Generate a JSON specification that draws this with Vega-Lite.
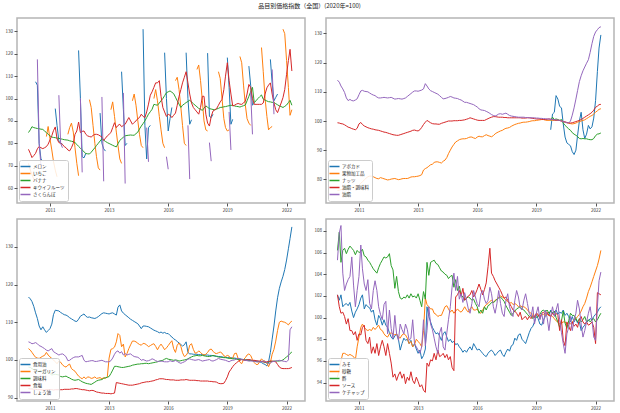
{
"$schema": "https://vega.github.io/schema/vega-lite/v6.json",
"padding": {"left": 4, "top": 3, "right": 6, "bottom": 2},
"title": {"text": "品目別価格指数（全国）(2020年=100)", "fontSize": 6, "font": "Noto Sans CJK JP", "fontWeight": "normal", "color": "#222222", "anchor": "middle", "offset": 8},
"config": {
  "font": "Noto Sans CJK JP",
  "view": {"stroke": "#b5b5b5", "strokeWidth": 1.5},
  "axis": {"domain": false, "grid": false, "labelFontSize": 4.5, "labelColor": "#333333", "tickColor": "#555555", "tickSize": 3, "labelPadding": 1.5, "title": null, "labelFont": "Noto Sans CJK JP"},
  "legend": {"orient": "bottom-left", "offset": 2, "padding": 3, "fillColor": "rgba(255,255,255,0.85)", "strokeColor": "#cccccc", "cornerRadius": 2, "symbolType": "M-2,0H2", "symbolSize": 25, "symbolStrokeWidth": 1.5, "labelFontSize": 4.5, "labelColor": "#222222", "labelOffset": 4, "rowPadding": 0, "title": null, "labelFont": "Noto Sans CJK JP"}
},
"resolve": {"scale": {"color": "independent", "y": "independent"}},
"spacing": 5,
"data": {"values": [
{"d":"2010-01","b":71,"c":84.8,"d2":77.3,"g":76.2,"i":99.4,"j":114,"k":116.7,"l":103,"m":98.1,"n":92.4,"o":104.8,"p":102.1,"q":94.5,"r":106.2,"s":102.1,"t":105.3},
{"d":"2010-02","b":68,"c":86,"d2":75.5,"g":76.3,"i":99.3,"j":113.3,"k":116.2,"l":102.6,"m":98,"n":92.3,"o":104.6,"p":101.6,"q":95.2,"r":107.9,"s":101,"t":107.8},
{"d":"2010-03","b":66,"c":87.4,"d2":73.6,"g":76.5,"i":99.1,"j":112,"k":115.5,"l":102,"m":97.7,"n":92.3,"o":104.3,"p":102.1,"q":96,"r":105.1,"s":100.4,"t":108.5},
{"d":"2010-04","b":64,"c":87,"d2":74.5,"g":76.6,"i":99,"j":111,"k":114.2,"l":101.3,"m":97.4,"n":92.2,"o":104.4,"p":101,"q":96.7,"r":106.2,"s":100.5,"t":104.1},
{"d":"2010-05","a":107.5,"b":63,"c":86.8,"d2":75.5,"g":76.8,"i":98.7,"j":109.8,"k":112.5,"l":100.7,"m":97.1,"n":92.2,"o":104.6,"p":101.2,"q":96.7,"r":106.4,"s":100.1,"t":102.5},
{"d":"2010-06","a":106,"c":86.6,"d2":77.5,"e":117.5,"g":76.9,"i":98.3,"j":107.9,"k":111,"l":100.5,"m":96.9,"n":92.1,"o":104.3,"p":101.3,"q":96.6,"r":105.9,"s":99.4,"t":103.1},
{"d":"2010-07","a":80,"c":86.5,"d2":78.6,"e":80,"g":77,"i":97.9,"j":107,"k":109,"l":100.4,"m":97,"n":92.1,"o":103.8,"p":101.1,"q":96.5,"r":106.3,"s":99.9,"t":103.5},
{"d":"2010-08","a":73,"c":86.3,"d2":78,"e":70,"g":77.1,"i":97.7,"j":107.4,"k":108,"l":100.7,"m":97.2,"n":92.1,"o":103.6,"p":101.4,"q":96.6,"r":106.6,"s":98.8,"t":103.8},
{"d":"2010-09","a":72,"c":86.2,"d2":77.6,"g":77.2,"i":97.4,"j":107,"k":108.8,"l":101,"m":96.8,"n":92,"o":103.3,"p":100.6,"q":96.5,"r":106.4,"s":98.8,"t":105.6},
{"d":"2010-10","c":85.5,"d2":78,"g":77.3,"i":97.2,"j":106.9,"k":108,"l":101.2,"m":96.4,"n":92,"o":103,"p":100,"q":96.4,"r":106.2,"s":98.4,"t":103},
{"d":"2010-11","b":83,"c":84.8,"d2":78.5,"g":77.4,"i":97,"j":107.2,"k":107.3,"l":102,"m":96.6,"n":92.1,"o":102.6,"p":100.5,"q":96.1,"r":105.8,"s":98.7,"t":101},
{"d":"2010-12","b":87.5,"c":84,"d2":79.6,"g":77.5,"i":97.5,"j":107.6,"k":107.8,"l":101.3,"m":96.8,"n":92.1,"o":102.4,"p":100.8,"q":97.3,"r":106.2,"s":97.9,"t":102.5},
{"d":"2011-01","b":82,"c":83.3,"d2":81.5,"g":78,"i":99,"j":109,"k":108.3,"l":100.8,"m":96.4,"n":92.1,"o":102.7,"p":101.2,"q":98.2,"r":106,"s":98.5,"t":103.8},
{"d":"2011-02","b":77,"c":82.8,"d2":83.4,"g":78.6,"i":99.5,"j":110.3,"k":109.5,"l":100.4,"m":96,"n":92.1,"o":103,"p":101.8,"q":99.1,"r":106.1,"s":98.4,"t":106.7},
{"d":"2011-03","b":72,"c":82.6,"d2":85.6,"g":79.2,"i":98.8,"j":110.5,"k":112,"l":100,"m":96.1,"n":92,"o":102.2,"p":102.1,"q":99.4,"r":106.3,"s":99.1,"t":104.5},
{"d":"2011-04","a":95.5,"b":68,"c":82.5,"d2":87.3,"g":79.8,"i":98.3,"j":110.2,"k":113.2,"l":99.5,"m":96.2,"n":92.1,"o":101.9,"p":100.8,"q":99.1,"r":105.7,"s":99.3,"t":103.1},
{"d":"2011-05","a":88,"b":65,"c":82.3,"d2":82,"g":80.4,"i":98,"j":110.1,"k":113.1,"l":99,"m":96.1,"n":92.1,"o":101.6,"p":101.2,"q":98.9,"r":105.6,"s":97.9,"t":102.5},
{"d":"2011-06","a":81,"c":82.2,"d2":80.3,"e":101.5,"g":80.9,"i":97.7,"j":110,"k":113,"l":99.7,"m":96,"n":92.1,"o":101.3,"p":101,"q":98.8,"r":105.3,"s":97.6,"t":103.5},
{"d":"2011-07","a":80,"c":82,"d2":80,"e":80,"g":81.1,"i":97.5,"j":109.6,"k":112.6,"l":99.4,"m":95.6,"n":92.1,"o":101.5,"p":100.9,"q":98.9,"r":105.1,"s":98.2,"t":101.3},
{"d":"2011-08","a":79.6,"c":81.8,"d2":79.5,"e":78,"g":81.1,"i":97.3,"j":109.2,"k":112.3,"l":98.7,"m":95.5,"n":92.1,"o":101.6,"p":100.5,"q":98.8,"r":104.8,"s":96.7,"t":100.8},
{"d":"2011-09","c":81.6,"d2":78.5,"g":80.9,"i":97.2,"j":108.9,"k":112,"l":98.3,"m":95.6,"n":92.2,"o":101.3,"p":100.7,"q":99.1,"r":104.5,"s":97.3,"t":102.5},
{"d":"2011-10","c":81.5,"d2":78,"g":80.6,"i":97,"j":108.7,"k":111.9,"l":98.1,"m":95.7,"n":92.2,"o":100.8,"p":99.8,"q":98.9,"r":104.3,"s":96.7,"t":103.4},
{"d":"2011-11","b":84,"c":81.4,"d2":77,"g":80.3,"i":96.9,"j":108.2,"k":111.6,"l":98.6,"m":95.4,"n":92.2,"o":99.8,"p":99.3,"q":99.1,"r":104.1,"s":97.6,"t":102.5},
{"d":"2011-12","b":87,"c":81.1,"d2":76.6,"g":80.2,"i":96.8,"j":107.9,"k":111.2,"l":98.9,"m":95.2,"n":92.2,"o":99.9,"p":100.2,"q":99.3,"r":104.6,"s":96.5,"t":101},
{"d":"2012-01","b":89,"c":80.9,"d2":78,"g":80.6,"i":96.6,"j":107.9,"k":110.9,"l":97.7,"m":94.9,"n":92.3,"o":100.3,"p":99.9,"q":98.9,"r":105,"s":97.3,"t":100.3},
{"d":"2012-02","b":85,"c":80.7,"d2":80,"g":80.4,"i":96.4,"j":108,"k":110.6,"l":97.3,"m":94.7,"n":92.3,"o":100.6,"p":99.3,"q":98.8,"r":105.3,"s":97.9,"t":99.8},
{"d":"2012-03","b":78,"c":80.3,"d2":84,"g":80.2,"i":96.2,"j":108.1,"k":110.3,"l":97,"m":94.6,"n":92.4,"o":100.8,"p":99.8,"q":98.5,"r":105.6,"s":97.3,"t":101.2},
{"d":"2012-04","b":71,"c":79.5,"d2":85.5,"g":80,"i":96.1,"j":108,"k":110.2,"l":96.3,"m":94.7,"n":92.4,"o":100.8,"p":99.3,"q":98.3,"r":105.5,"s":96.5,"t":101.5},
{"d":"2012-05","a":121.5,"b":65.5,"c":78.6,"d2":89.5,"g":79.8,"i":95.9,"j":107.9,"k":110.8,"l":95.7,"m":94.8,"n":92.3,"o":100.8,"p":99.1,"q":98.2,"r":105.6,"s":97.6,"t":98.5},
{"d":"2012-06","a":100,"c":77.8,"d2":84.8,"e":100,"g":79.9,"i":95.7,"j":108,"k":111.6,"l":95.3,"m":94.5,"n":92.2,"o":101,"p":98.6,"q":98.5,"r":105.9,"s":96.7,"t":100.7},
{"d":"2012-07","a":74,"c":77,"d2":85.3,"e":67,"g":80.1,"i":95.5,"j":108.1,"k":111.9,"l":95,"m":94.2,"n":92.1,"o":101.2,"p":98.2,"q":98.6,"r":104.8,"s":95.8,"t":99},
{"d":"2012-08","a":73.5,"c":76.2,"d2":85.5,"g":80.2,"i":95.3,"j":107.8,"k":112.2,"l":95.5,"m":94,"n":92.1,"o":99.9,"p":98,"q":98.5,"r":104.4,"s":94.5,"t":98.1},
{"d":"2012-09","a":75.5,"c":75.4,"d2":84,"g":80.3,"i":95.2,"j":107.5,"k":111.6,"l":95,"m":93.8,"n":92,"o":99.5,"p":98.3,"q":98.4,"r":102.7,"s":94.8,"t":100.2},
{"d":"2012-10","c":75.3,"d2":83.3,"g":80.1,"i":95.1,"j":107.6,"k":111.3,"l":95.5,"m":93.7,"n":91.9,"o":99.6,"p":98.5,"q":98.5,"r":103.8,"s":94.2,"t":98.5},
{"d":"2012-11","b":99.5,"c":75.2,"d2":83,"g":79.9,"i":95.1,"j":107.7,"k":111.4,"l":95.4,"m":93.6,"n":91.8,"o":99.7,"p":98,"q":98.2,"r":102.4,"s":94.7,"t":97.9},
{"d":"2012-12","b":96,"c":76,"d2":82.8,"g":80,"i":95.3,"j":107.6,"k":111.2,"l":95.1,"m":93.5,"n":91.9,"o":99.8,"p":97,"q":98.1,"r":101.8,"s":95,"t":99.4},
{"d":"2013-01","b":88,"c":77,"d2":83.5,"g":80.2,"i":95.5,"j":107.5,"k":111.1,"l":95.2,"m":93.8,"n":91.9,"o":99.8,"p":97.6,"q":98.4,"r":101.7,"s":94.4,"t":98.9},
{"d":"2013-02","b":80,"c":78,"d2":84,"g":80.3,"i":95.7,"j":107.7,"k":111,"l":95.5,"m":94.1,"n":91.7,"o":99.6,"p":98.1,"q":98.5,"r":101.9,"s":94.8,"t":98.5},
{"d":"2013-03","b":74,"c":79,"d2":84,"g":80.3,"i":95.9,"j":107.9,"k":111.2,"l":95.1,"m":94.4,"n":91.5,"o":99.6,"p":97.9,"q":98.4,"r":101.8,"s":93.9,"t":99.4},
{"d":"2013-04","b":69,"c":80,"d2":83.8,"g":80.3,"i":96.1,"j":108.4,"k":111.5,"l":95.2,"m":94.6,"n":91.4,"o":99.7,"p":98,"q":98.1,"r":102.1,"s":94.5,"t":98.9},
{"d":"2013-05","a":93.5,"b":68,"c":81,"d2":83.3,"g":80.5,"i":96.3,"j":108.9,"k":111.9,"l":95.3,"m":94.7,"n":91.3,"o":99.8,"p":97.6,"q":97.6,"r":101.8,"s":94.2,"t":97.9},
{"d":"2013-06","a":80,"c":82,"d2":82.8,"e":100.7,"g":80.8,"i":96.5,"j":109.4,"k":112.3,"l":95,"m":94.8,"n":91.2,"o":99.9,"p":97.9,"q":97.8,"r":102.2,"s":95,"t":98.1},
{"d":"2013-07","a":77.5,"c":81.4,"d2":81.3,"e":63,"g":80.9,"i":96.8,"j":109.9,"k":112.5,"l":95.3,"m":95.1,"n":91.2,"o":99.7,"p":97.3,"q":97.3,"r":101.9,"s":94.2,"t":99.8},
{"d":"2013-08","a":76.5,"c":80.8,"d2":82.3,"g":80.9,"i":96.9,"j":110.3,"k":112.4,"l":95.1,"m":95.3,"n":91.1,"o":99.5,"p":97.6,"q":97.5,"r":102,"s":93.9,"t":97.6},
{"d":"2013-09","c":80.3,"d2":83.3,"g":81,"i":96.7,"j":110.3,"k":112.3,"l":95.5,"m":95.4,"n":91.1,"o":99.5,"p":97.1,"q":98,"r":101.8,"s":94.5,"t":97.3},
{"d":"2013-10","c":79.9,"d2":84,"g":81.1,"i":96.6,"j":110.2,"k":112.2,"l":100.5,"m":95.6,"n":91.1,"o":99.5,"p":96.7,"q":97.8,"r":102.2,"s":94.1,"t":97},
{"d":"2013-11","b":95,"c":79.5,"d2":84.8,"g":81.3,"i":97,"j":110.4,"k":112.4,"l":102.8,"m":96.4,"n":91,"o":99.8,"p":97,"q":97.6,"r":101.6,"s":93.6,"t":96.7},
{"d":"2013-12","b":98.5,"c":79.1,"d2":87,"g":81.6,"i":97.8,"j":110.6,"k":112.5,"l":103,"m":97.3,"n":91.1,"o":100.5,"p":96.2,"q":97.3,"r":101,"s":93.8,"t":97.3},
{"d":"2014-01","b":92,"c":78.7,"d2":89.2,"g":83.2,"i":98.8,"j":111,"k":112.2,"l":103.4,"m":98.3,"n":91.2,"o":101.5,"p":96.5,"q":98.8,"r":102.4,"s":93.3,"t":99.8},
{"d":"2014-02","b":85,"c":78.4,"d2":87,"g":83.7,"i":99.6,"j":112.8,"k":111.9,"l":104.8,"m":98.3,"n":94,"o":102.2,"p":97.1,"q":101.8,"r":101.7,"s":93.1,"t":97.4},
{"d":"2014-03","b":79,"c":79.8,"d2":88,"g":84,"i":100.2,"j":112,"k":114,"l":107,"m":98.2,"n":93.9,"o":102.4,"p":101,"q":101.2,"r":105.1,"s":95.8,"t":98.8},
{"d":"2014-04","b":73,"c":81.3,"d2":88.5,"g":84.5,"i":99.8,"j":111,"k":114.6,"l":106.5,"m":98.1,"n":93.8,"o":101.8,"p":100.1,"q":101,"r":103.9,"s":95.5,"t":101},
{"d":"2014-05","a":112,"b":71,"c":82,"d2":87.4,"g":85,"i":99.4,"j":110.4,"k":113,"l":103.5,"m":98,"n":93.7,"o":102.2,"p":99.6,"q":100.8,"r":105.1,"s":96.1,"t":99.4},
{"d":"2014-06","a":95,"c":82.7,"d2":88,"e":102.5,"g":85.2,"i":99.1,"j":110.1,"k":112.4,"l":104.2,"m":98,"n":93.6,"o":101.3,"p":99.1,"q":100.8,"r":105.2,"s":96,"t":98.9},
{"d":"2014-07","a":79,"c":83.3,"d2":88.5,"e":62,"g":85.8,"i":99,"j":109.8,"k":112,"l":100.8,"m":98.1,"n":93.5,"o":101.7,"p":98.8,"q":100.4,"r":105.3,"s":96.7,"t":98.1},
{"d":"2014-08","a":80,"c":83.5,"d2":90,"g":86,"i":99,"j":109.5,"k":111.6,"l":101.7,"m":98.2,"n":93.4,"o":101.3,"p":98.5,"q":100.3,"r":105,"s":96.1,"t":97.3},
{"d":"2014-09","c":83.6,"d2":91.5,"g":86,"i":98.9,"j":109.2,"k":111.2,"l":103,"m":98.3,"n":93.3,"o":101.5,"p":98.6,"q":100.1,"r":104.9,"s":97,"t":96.7},
{"d":"2014-10","c":83.7,"d2":90,"g":85.8,"i":98.9,"j":108.7,"k":110.8,"l":104,"m":98.4,"n":93.3,"o":101.6,"p":98.3,"q":100.2,"r":104.6,"s":96.4,"t":98.6},
{"d":"2014-11","b":99,"c":83.6,"d2":88.5,"g":85.6,"i":99.2,"j":108.1,"k":110.5,"l":105,"m":98.6,"n":93.3,"o":101.2,"p":97.9,"q":100.2,"r":104.3,"s":96.5,"t":99.1},
{"d":"2014-12","b":102,"c":83.6,"d2":89.3,"g":86.2,"i":99.4,"j":107.6,"k":110.2,"l":105,"m":98.7,"n":93.4,"o":100.9,"p":98.5,"q":100.6,"r":104.2,"s":96.7,"t":97.3},
{"d":"2015-01","b":97,"c":84.3,"d2":90,"g":86.6,"i":99.6,"j":107.7,"k":109.9,"l":104.8,"m":98.8,"n":93.5,"o":100.8,"p":98.7,"q":101,"r":104,"s":96.3,"t":97},
{"d":"2015-02","b":90,"c":85,"d2":91,"g":87.5,"i":99.8,"j":107.9,"k":109.6,"l":104.4,"m":98.9,"n":93.6,"o":100.7,"p":98.2,"q":101.1,"r":103.9,"s":96.6,"t":98.6},
{"d":"2015-03","b":84,"c":86.4,"d2":91.5,"g":88.8,"i":100,"j":108.1,"k":109,"l":104.1,"m":98.9,"n":93.7,"o":100.4,"p":97.8,"q":100.8,"r":103.6,"s":96.1,"t":99.8},
{"d":"2015-04","b":79,"c":87.7,"d2":93,"g":90,"i":100,"j":108.4,"k":108.3,"l":103.9,"m":99,"n":93.9,"o":99.9,"p":98,"q":100.5,"r":103.8,"s":96.4,"t":101},
{"d":"2015-05","a":131,"b":78,"c":88.8,"d2":92,"g":91.1,"i":100,"j":108.2,"k":109,"l":104.4,"m":99,"n":94,"o":100.1,"p":97.7,"q":100.7,"r":103.9,"s":95.4,"t":102.8},
{"d":"2015-06","a":88,"c":90,"d2":91.5,"g":92,"i":100.1,"j":107.9,"k":109,"l":104.3,"m":99.1,"n":94.1,"o":99.9,"p":97.8,"q":100.4,"r":102.8,"s":95.1,"t":104.1},
{"d":"2015-07","a":73,"c":91.5,"d2":94,"e":87,"g":92.8,"i":100.1,"j":107.8,"k":108.9,"l":104,"m":99.1,"n":94.2,"o":99.7,"p":97.5,"q":100.6,"r":103.5,"s":101.9,"t":102.5},
{"d":"2015-08","a":87,"c":93,"d2":97.5,"e":71.7,"g":93.2,"i":100.1,"j":107.7,"k":108.8,"l":103.5,"m":99,"n":94.2,"o":99.8,"p":97.6,"q":100.8,"r":102.5,"s":102.1,"t":103.8},
{"d":"2015-09","a":88,"c":94.1,"d2":101.5,"g":93.6,"i":100.2,"j":107.4,"k":108.5,"l":103.8,"m":99.1,"n":94.3,"o":100,"p":97.3,"q":100.6,"r":102.9,"s":102.5,"t":101.7},
{"d":"2015-10","c":95.2,"d2":103,"g":93.8,"i":100.2,"j":107.2,"k":108.2,"l":104.1,"m":99.2,"n":94.4,"o":100.3,"p":97.1,"q":100.5,"r":102.1,"s":102,"t":102.2},
{"d":"2015-11","b":100,"c":97.4,"d2":105,"g":93.9,"i":100.3,"j":106.8,"k":107.9,"l":104.3,"m":99.3,"n":94.5,"o":100.1,"p":96.8,"q":100.7,"r":101.9,"s":102.7,"t":101.4},
{"d":"2015-12","b":104,"c":97.2,"d2":107,"g":93.9,"i":100.4,"j":106.4,"k":107.7,"l":103.6,"m":99.4,"n":94.7,"o":99.8,"p":97,"q":101,"r":101.6,"s":101.6,"t":102.3},
{"d":"2016-01","b":99,"c":97,"d2":107,"g":94,"i":100.6,"j":106.4,"k":107.5,"l":102.7,"m":99.5,"n":94.8,"o":99.6,"p":96.8,"q":100.7,"r":101.8,"s":101.8,"t":101.6},
{"d":"2016-02","b":92,"c":98,"d2":108,"g":94.3,"i":100.8,"j":106.2,"k":107.2,"l":103.6,"m":99.7,"n":95,"o":99.6,"p":97.1,"q":100.5,"r":101.9,"s":102,"t":100.8},
{"d":"2016-03","b":86,"c":99,"d2":101,"g":94.5,"i":101.1,"j":106,"k":107.4,"l":104.2,"m":99.8,"n":95,"o":99.7,"p":97.3,"q":100.8,"r":101.8,"s":102.1,"t":100.4},
{"d":"2016-04","b":80,"c":100,"d2":96,"g":94.5,"i":100.9,"j":105.8,"k":107.1,"l":103.5,"m":99.9,"n":95,"o":99.6,"p":97,"q":101,"r":101.6,"s":102.5,"t":101.3},
{"d":"2016-05","a":120.5,"b":78,"c":101.3,"d2":94,"g":94.2,"i":100.7,"j":105.6,"k":107.3,"l":102.7,"m":100.2,"n":94.9,"o":99.5,"p":97.6,"q":100.7,"r":101.7,"s":101.9,"t":102.5},
{"d":"2016-06","a":100,"c":102.6,"d2":92,"e":74,"g":94,"i":100.5,"j":105.2,"k":107,"l":103.2,"m":100.4,"n":94.8,"o":99.5,"p":97.3,"q":100.7,"r":101.3,"s":102.2,"t":101.9},
{"d":"2016-07","a":85.5,"c":103,"d2":93,"e":68.4,"g":94.5,"i":100.3,"j":104.8,"k":107,"l":103.8,"m":100.2,"n":94.8,"o":99.5,"p":97,"q":100.8,"r":101,"s":102.6,"t":101.3},
{"d":"2016-08","a":91,"c":103.4,"d2":92.5,"g":94.8,"i":100.2,"j":104.2,"k":106.5,"l":104.5,"m":100.1,"n":94.7,"o":99.8,"p":97.1,"q":100.5,"r":100.4,"s":103.1,"t":101},
{"d":"2016-09","a":96,"c":102.8,"d2":91.5,"g":94.6,"i":100.2,"j":103.8,"k":106.1,"l":105.1,"m":100,"n":94.7,"o":99.6,"p":96.9,"q":100.4,"r":100.7,"s":102.6,"t":102.2},
{"d":"2016-10","c":102.2,"d2":92.5,"g":94.6,"i":100.2,"j":103.7,"k":105.6,"l":103,"m":99.9,"n":94.7,"o":99.6,"p":96.7,"q":100.7,"r":100.4,"s":102.1,"t":102.5},
{"d":"2016-11","b":108,"c":100.6,"d2":93.5,"g":95,"i":100.2,"j":103.6,"k":105.3,"l":102,"m":100,"n":94.6,"o":99.9,"p":96.5,"q":101,"r":101,"s":102.6,"t":101.7},
{"d":"2016-12","b":109.5,"c":99,"d2":97,"g":95.3,"i":100.5,"j":103.3,"k":104.9,"l":103.9,"m":99.9,"n":94.6,"o":99.6,"p":96.4,"q":101.2,"r":100.7,"s":103.2,"t":101.3},
{"d":"2017-01","b":104,"c":97.5,"d2":101,"g":95,"i":100.8,"j":103,"k":104.5,"l":104.5,"m":99.7,"n":94.6,"o":99.3,"p":96.7,"q":101.3,"r":101.1,"s":104.7,"t":101.6},
{"d":"2017-02","b":96,"c":96,"d2":104,"g":94.8,"i":101.1,"j":102.6,"k":104.1,"l":103.6,"m":99.8,"n":94.7,"o":99.1,"p":96.9,"q":101.5,"r":101.2,"s":106.4,"t":102.8},
{"d":"2017-03","b":88,"c":97,"d2":107,"g":94.6,"i":101.3,"j":102.2,"k":103.7,"l":101.9,"m":99.9,"n":94.7,"o":99.3,"p":97,"q":101.6,"r":101.4,"s":104.1,"t":102.2},
{"d":"2017-04","b":80,"c":97.6,"d2":109.5,"g":95,"i":101.5,"j":101.9,"k":104,"l":100.9,"m":100,"n":94.7,"o":99.5,"p":96.8,"q":101.4,"r":101.4,"s":103.8,"t":101},
{"d":"2017-05","a":120.5,"b":79,"c":98.2,"d2":112,"g":95.6,"i":101.5,"j":101.7,"k":104.8,"l":101.2,"m":100.1,"n":94.8,"o":99.8,"p":96.5,"q":101.6,"r":101.5,"s":103.4,"t":100.4},
{"d":"2017-06","a":100,"c":98.7,"d2":107,"e":88,"g":96,"i":101.4,"j":102,"k":102,"l":102,"m":100.3,"n":94.7,"o":100.2,"p":96.7,"q":101.7,"r":101.7,"s":103.1,"t":101.3},
{"d":"2017-07","a":88.5,"c":99.2,"d2":102,"e":64,"g":96.3,"i":101.3,"j":102.4,"k":101.6,"l":103.9,"m":100.6,"n":94.6,"o":100.3,"p":96.9,"q":101.9,"r":101.8,"s":102.8,"t":102.5},
{"d":"2017-08","a":90.5,"c":98.5,"d2":98,"g":96.6,"i":101.3,"j":102.5,"k":101.6,"l":104.3,"m":100.8,"n":94.6,"o":100.1,"p":97,"q":102,"r":101.9,"s":102.5,"t":101.3},
{"d":"2017-09","c":97.7,"d2":96,"g":96.8,"i":101.3,"j":102.3,"k":101.5,"l":102.8,"m":101,"n":94.6,"o":100,"p":96.6,"q":101.9,"r":101.7,"s":102.1,"t":100.4},
{"d":"2017-10","c":97,"d2":95,"g":97.2,"i":101.2,"j":102.5,"k":101.5,"l":101.8,"m":101.1,"n":94.6,"o":99.9,"p":96.4,"q":101.8,"r":101.5,"s":101.8,"t":100.1},
{"d":"2017-11","b":113,"c":96.3,"d2":94,"g":97.5,"i":101.2,"j":102.7,"k":101.5,"l":101.9,"m":101.2,"n":94.5,"o":100,"p":96.8,"q":101.6,"r":101.1,"s":101.9,"t":101.6},
{"d":"2017-12","b":115,"c":95.6,"d2":93,"g":97.6,"i":101.1,"j":102.3,"k":101.4,"l":102.4,"m":101.1,"n":94.5,"o":100.1,"p":97.1,"q":101.5,"r":100.8,"s":101.6,"t":102.2},
{"d":"2018-01","b":108,"c":95.2,"d2":96,"g":97.8,"i":101.1,"j":101.9,"k":101.4,"l":102,"m":101.1,"n":94.4,"o":99.9,"p":96.9,"q":101.3,"r":100.5,"s":101.3,"t":101},
{"d":"2018-02","b":99,"c":94.7,"d2":101,"g":98.2,"i":101.1,"j":101.7,"k":101.4,"l":101.5,"m":101.2,"n":94.4,"o":99.7,"p":97.4,"q":101.4,"r":100.2,"s":101,"t":100.4},
{"d":"2018-03","b":90,"c":95.7,"d2":101,"g":98.5,"i":101.1,"j":101.6,"k":101.3,"l":101.3,"m":101.1,"n":94.4,"o":99.8,"p":97.5,"q":101.2,"r":100.4,"s":100.7,"t":100.1},
{"d":"2018-04","b":86,"c":96.7,"d2":93,"g":98.8,"i":101.1,"j":101.5,"k":101.3,"l":101.5,"m":101,"n":94.4,"o":99.9,"p":98.1,"q":101.3,"r":100.6,"s":100.6,"t":101.6},
{"d":"2018-05","a":120.3,"b":85.5,"c":96.1,"d2":89,"g":99,"i":101.1,"j":101.4,"k":101.3,"l":102,"m":100.9,"n":94.4,"o":100,"p":97.9,"q":101.2,"r":100.8,"s":100.4,"t":102.5},
{"d":"2018-06","a":92,"c":95.5,"d2":87.7,"e":80.3,"g":99.2,"i":101.1,"j":101.3,"k":101.2,"l":102.7,"m":100.9,"n":94.3,"o":100.1,"p":98.4,"q":101,"r":100.9,"s":100.1,"t":101.9},
{"d":"2018-07","a":91.5,"c":95.3,"d2":92,"e":72,"g":99.3,"i":101.1,"j":101.3,"k":101.2,"l":102.9,"m":101,"n":94.3,"o":99.8,"p":98.5,"q":101.1,"r":101,"s":100.5,"t":100.9},
{"d":"2018-08","a":93,"c":95.1,"d2":94.4,"g":99.5,"i":101,"j":101.3,"k":101.1,"l":102.3,"m":101.2,"n":94.2,"o":99.7,"p":98,"q":101,"r":100.8,"s":99.8,"t":100.7},
{"d":"2018-09","c":94.9,"d2":95,"g":99.6,"i":101,"j":101.3,"k":101,"l":101.8,"m":101.1,"n":94.2,"o":99.9,"p":97.8,"q":101,"r":100.7,"s":100,"t":101.6},
{"d":"2018-10","c":95.3,"d2":95.5,"g":99.6,"i":101,"j":101.2,"k":101,"l":101.7,"m":100.9,"n":94.1,"o":100.1,"p":97.6,"q":100.9,"r":100.5,"s":100.1,"t":102.2},
{"d":"2018-11","b":112,"c":95.6,"d2":97,"g":99.7,"i":101.1,"j":101.2,"k":100.9,"l":101.9,"m":100.8,"n":93.8,"o":100.4,"p":98.1,"q":100.7,"r":100.3,"s":99.8,"t":101.3},
{"d":"2018-12","b":109,"c":96,"d2":98.5,"g":99.8,"i":101.1,"j":101.1,"k":100.9,"l":102.1,"m":100.7,"n":93.7,"o":100.2,"p":98.6,"q":100.5,"r":100.1,"s":100.1,"t":100.4},
{"d":"2019-01","b":100,"c":96.1,"d2":99.6,"g":100,"i":101,"j":101.1,"k":100.8,"l":101.8,"m":100.7,"n":93.7,"o":100.1,"p":99,"q":100.4,"r":100.2,"s":99.9,"t":100.1},
{"d":"2019-02","b":91,"c":96.3,"d2":104,"g":100.1,"i":100.9,"j":101.1,"k":100.7,"l":101.1,"m":100.6,"n":93.8,"o":100,"p":99.2,"q":100.3,"r":99.9,"s":100.2,"t":101},
{"d":"2019-03","b":87,"c":96.4,"d2":110,"g":100.1,"i":100.8,"j":101.1,"k":100.7,"l":100.9,"m":100.6,"n":94.5,"o":99.9,"p":99.6,"q":100.2,"r":100.1,"s":100,"t":99.4},
{"d":"2019-04","a":118.3,"b":85.5,"c":96.6,"d2":116,"g":100.2,"i":100.7,"j":101,"k":100.6,"l":101.2,"m":100.5,"n":95.5,"o":99.7,"p":100.3,"q":100.3,"r":100,"s":100.4,"t":100.4},
{"d":"2019-05","a":105,"b":86,"c":96.8,"d2":108,"e":94,"g":100.3,"i":100.7,"j":101,"k":100.6,"l":101,"m":100.4,"n":96.8,"o":99.5,"p":99.9,"q":100.2,"r":100.1,"s":100.3,"t":101},
{"d":"2019-06","a":88.5,"c":97,"d2":102,"e":77,"g":100.4,"i":100.7,"j":100.9,"k":100.6,"l":100.3,"m":100.4,"n":97.5,"o":99.8,"p":99.4,"q":100.1,"r":100.3,"s":99.9,"t":99.8},
{"d":"2019-07","a":90.7,"c":96.9,"d2":96.7,"g":100.5,"i":100.6,"j":100.9,"k":100.5,"l":100.5,"m":100.3,"n":98.2,"o":99.9,"p":99.3,"q":100.3,"r":100.6,"s":100.4,"t":100.4},
{"d":"2019-08","c":96.7,"d2":97,"g":100.5,"i":100.5,"j":100.8,"k":100.5,"l":101.7,"m":100.3,"n":98.8,"o":100,"p":99.8,"q":100.3,"r":100.7,"s":100.5,"t":99.4},
{"d":"2019-09","c":96.5,"d2":97.5,"g":100.3,"i":100.5,"j":100.8,"k":100.4,"l":101.8,"m":100.2,"n":99.2,"o":100.2,"p":100.1,"q":100.2,"r":100.5,"s":100.3,"t":100.7},
{"d":"2019-10","c":96.4,"d2":97.8,"g":100.2,"i":100.6,"j":100.7,"k":100.4,"l":100.4,"m":100.1,"n":99.6,"o":100.4,"p":100.4,"q":100.3,"r":100.7,"s":100.5,"t":100},
{"d":"2019-11","b":118.8,"c":96.2,"d2":97.5,"g":100.2,"i":100.7,"j":100.7,"k":100.3,"l":99.4,"m":100.1,"n":99.9,"o":100.3,"p":100.2,"q":100.2,"r":100.4,"s":100.2,"t":98.8},
{"d":"2019-12","b":116,"c":96.5,"d2":97.4,"f":97,"g":100.3,"h":100.2,"i":100.6,"j":100.6,"k":100.2,"l":99,"m":100.1,"n":100.1,"o":100.1,"p":100.7,"q":100.2,"r":100.6,"s":100.1,"t":100.1},
{"d":"2020-01","b":106,"c":96.8,"d2":98,"f":102.4,"g":100.2,"h":101.3,"i":100.5,"j":100.5,"k":100.1,"l":100.1,"m":100.1,"n":100,"o":100,"p":100.4,"q":100.1,"r":100.4,"s":100.4,"t":101},
{"d":"2020-02","b":97,"c":97.1,"d2":98.9,"f":103,"g":100.2,"h":100.5,"i":100.4,"j":100.4,"k":100,"l":100.6,"m":100,"n":99.9,"o":99.9,"p":100.5,"q":99.9,"r":100.6,"s":100.2,"t":100.1},
{"d":"2020-03","b":91,"c":99,"d2":102,"f":108.7,"g":100.2,"h":100.7,"i":100.3,"j":100.4,"k":100,"l":101.3,"m":100,"n":100,"o":99.8,"p":100.7,"q":99.7,"r":100,"s":100.4,"t":100.7},
{"d":"2020-04","a":114.5,"b":89,"c":101,"d2":106.3,"f":107.5,"g":100.2,"h":100.5,"i":100.3,"j":100.3,"k":99.9,"l":101.6,"m":99.9,"n":100.1,"o":99.7,"p":100.3,"q":99.6,"r":99.6,"s":100.2,"t":101.3},
{"d":"2020-05","a":106,"b":88,"c":103,"d2":105,"e":103,"f":105,"g":100.2,"h":100.2,"i":100.2,"j":100.2,"k":99.9,"l":101.2,"m":99.9,"n":100,"o":99.7,"p":100.5,"q":99.4,"r":99.1,"s":98.8,"t":99.8},
{"d":"2020-06","a":97,"c":105,"d2":100,"e":84,"f":104.5,"g":100,"h":100.5,"i":100,"j":100,"k":99.8,"l":100.1,"m":99.8,"n":99.9,"o":99.7,"p":100.4,"q":99.5,"r":99.7,"s":99.8,"t":98.6},
{"d":"2020-07","a":98,"c":98.2,"d2":97.4,"f":99,"g":99.8,"h":99.3,"i":99.8,"j":99.8,"k":99.8,"l":99.3,"m":99.7,"n":99.9,"o":99.6,"p":100.7,"q":99.6,"r":100.6,"s":97.9,"t":97.6},
{"d":"2020-08","c":99,"d2":97.4,"f":94.5,"g":99.6,"h":98.5,"i":99.7,"j":99.6,"k":99.7,"l":98.8,"m":99.6,"n":99.8,"o":99.5,"p":100.2,"q":99.6,"r":99.5,"s":97.4,"t":96.7},
{"d":"2020-09","c":100,"d2":97.4,"f":92.5,"g":99.4,"h":97.9,"i":99.5,"j":99.4,"k":99.7,"l":98.8,"m":99.5,"n":99.7,"o":99.5,"p":100.4,"q":99.4,"r":99,"s":99.6,"t":98.5},
{"d":"2020-10","c":100.8,"d2":97.4,"f":92,"g":99.2,"h":97.3,"i":99.4,"j":99.3,"k":99.5,"l":99.5,"m":99.6,"n":99.7,"o":99.5,"p":100.1,"q":99.5,"r":99.7,"s":99.2,"t":99.1},
{"d":"2020-11","b":122.8,"c":101.6,"d2":97.4,"f":91.5,"g":99.1,"h":96.8,"i":99.3,"j":100,"k":99.3,"l":100.3,"m":99.6,"n":99.6,"o":99.6,"p":99.6,"q":99.4,"r":100.4,"s":98.8,"t":100.1},
{"d":"2020-12","b":112,"c":99.7,"d2":98,"f":89.5,"g":99,"h":96,"i":99.4,"j":102,"k":99,"l":99.8,"m":99.5,"n":99.5,"o":99.7,"p":100.1,"q":99.6,"r":100.2,"s":99.6,"t":98.8},
{"d":"2021-01","b":100,"c":99.3,"d2":102,"f":88.5,"g":99.1,"h":95.5,"i":99.6,"j":104.5,"k":98.8,"l":99.7,"m":99.4,"n":99.4,"o":99.6,"p":99.6,"q":99.8,"r":100.2,"s":99.2,"t":99.8},
{"d":"2021-02","b":92,"c":98.9,"d2":104.8,"f":90,"g":99.3,"h":95.1,"i":99.8,"j":107.5,"k":98.4,"l":99.2,"m":99.2,"n":99.5,"o":99.3,"p":99.9,"q":99.9,"r":99.9,"s":99.4,"t":100.4},
{"d":"2021-03","b":86,"c":98.6,"d2":106,"f":95,"g":99.6,"h":94.7,"i":100,"j":110.4,"k":99.5,"l":98.2,"m":99.4,"n":99.6,"o":99,"p":99.5,"q":100.1,"r":99.6,"s":99.1,"t":101.6},
{"d":"2021-04","a":117.5,"b":87,"c":98.5,"d2":107,"f":100,"g":99.8,"h":94,"i":100.2,"j":113.5,"k":102,"l":99.3,"m":99.6,"n":99.7,"o":99.2,"p":99.6,"q":100.3,"r":99.9,"s":99.8,"t":100.8},
{"d":"2021-05","a":107,"b":87.5,"c":98.3,"d2":102,"e":113,"f":103,"g":100,"h":93.9,"i":100.5,"j":115.5,"k":105.5,"l":101.5,"m":99.6,"n":99.7,"o":99.5,"p":98.8,"q":100.6,"r":99.6,"s":100.1,"t":99.4},
{"d":"2021-06","a":99,"c":98.2,"d2":98,"e":93,"f":97,"g":100.2,"h":94,"i":100.9,"j":117.2,"k":109,"l":102.8,"m":99.7,"n":99.6,"o":99.6,"p":99.1,"q":101,"r":99.8,"s":99.6,"t":98.2},
{"d":"2021-07","a":100.5,"c":97.7,"d2":95,"f":94,"g":100.4,"h":93.9,"i":101.3,"j":118.5,"k":113,"l":105,"m":99.7,"n":99.5,"o":99.7,"p":99.3,"q":101.3,"r":100.1,"s":99.4,"t":98.8},
{"d":"2021-08","a":102,"c":97.2,"d2":93.7,"f":95.5,"g":100.8,"h":93.9,"i":101.7,"j":119.8,"k":116.5,"l":107.8,"m":99.7,"n":98.8,"o":99.8,"p":99.6,"q":101.8,"r":99.6,"s":99.6,"t":99.6},
{"d":"2021-09","c":96.7,"d2":96,"f":98.5,"g":101.2,"h":93.7,"i":102.1,"j":121,"k":119,"l":110,"m":99.7,"n":98.1,"o":99.9,"p":99.7,"q":102.4,"r":99.8,"s":99.3,"t":100.4},
{"d":"2021-10","c":96.4,"d2":98,"f":97.3,"g":101.6,"h":93.6,"i":102.5,"j":123.5,"k":120.7,"l":110.3,"m":99.8,"n":97.8,"o":99.8,"p":99.9,"q":102.8,"r":99.6,"s":99.4,"t":101},
{"d":"2021-11","b":131,"c":96,"d2":100.4,"f":98,"g":101.9,"h":93.6,"i":103,"j":126.5,"k":122.2,"l":110.1,"m":100,"n":97.7,"o":99.7,"p":99.8,"q":103.3,"r":99.8,"s":99.6,"t":99.8},
{"d":"2021-12","b":129,"c":96.5,"d2":104,"f":101,"g":102.4,"h":94,"i":103.7,"j":129,"k":124,"l":110,"m":100.4,"n":97.7,"o":99.6,"p":100.1,"q":103.8,"r":99.9,"s":99.1,"t":98.2},
{"d":"2022-01","b":117,"c":97.1,"d2":110.8,"f":107,"g":103,"h":95,"i":104.7,"j":130.5,"k":126.5,"l":109.7,"m":100.8,"n":97.7,"o":99.5,"p":100.3,"q":104.3,"r":99.6,"s":97.6,"t":97.9},
{"d":"2022-02","b":105,"c":98.2,"d2":117,"f":117,"g":103.5,"h":95.5,"i":105.1,"j":131.3,"k":129.5,"l":109.3,"m":101.2,"n":97.7,"o":100,"p":100.5,"q":104.8,"r":99.8,"s":102.3,"t":101},
{"d":"2022-03","b":92.5,"c":99.2,"d2":122,"f":125,"g":104,"h":95.6,"i":105.6,"j":132,"k":132.2,"l":109.9,"m":101.7,"n":97.8,"o":108,"p":100.8,"q":105.4,"r":100.1,"s":102.2,"t":103.4},
{"d":"2022-04","b":95,"c":97,"d2":112.3,"f":129.5,"g":104.2,"h":95.9,"i":105.7,"j":132.3,"k":135.3,"l":110.3,"m":102.1,"n":98,"o":108.8,"p":101,"q":106.2,"r":100.4,"s":102.1,"t":104.2}
]},
"vconcat": [
 {"hconcat": [
  {"width": 288, "height": 185,
   "transform": [{"fold": ["a","b","c","d2","e"], "as": ["k2","v"]}],
   "mark": {"type": "line", "strokeWidth": 1, "invalid": "break-paths-show-domains"},
   "encoding": {
    "x": {"field": "d", "type": "temporal", "scale": {"type": "utc", "domain": [{"year":2009,"month":6,"date":20,"utc":true},{"year":2022,"month":11,"date":10,"utc":true}]}, "axis": {"values": [{"year":2011,"month":1,"date":1,"utc":true},{"year":2013,"month":10,"date":1,"utc":true},{"year":2016,"month":7,"date":1,"utc":true},{"year":2019,"month":4,"date":1,"utc":true},{"year":2022,"month":1,"date":1,"utc":true}], "format": "%Y", "labelFlush": false}},
    "y": {"field": "v", "type": "quantitative", "scale": {"domain": [53.3, 136], "nice": false, "zero": false}, "axis": {"values": [60,70,80,90,100,110,120,130]}},
    "color": {"field": "k2", "type": "nominal", "scale": {"domain": ["a","b","c","d2","e"], "range": ["#1f77b4","#ff7f0e","#2ca02c","#d62728","#9467bd"]}, "legend": {"labelExpr": "datum.label=='a'?'メロン':datum.label=='b'?'いちご':datum.label=='c'?'バナナ':datum.label=='d2'?'キウイフルーツ':'さくらんぼ'"}}
   }},
  {"width": 288, "height": 185,
   "transform": [{"fold": ["f","g","h","i","j"], "as": ["k2","v"]}],
   "mark": {"type": "line", "strokeWidth": 1, "invalid": "break-paths-show-domains"},
   "encoding": {
    "x": {"field": "d", "type": "temporal", "scale": {"type": "utc", "domain": [{"year":2009,"month":6,"date":20,"utc":true},{"year":2022,"month":11,"date":10,"utc":true}]}, "axis": {"values": [{"year":2011,"month":1,"date":1,"utc":true},{"year":2013,"month":10,"date":1,"utc":true},{"year":2016,"month":7,"date":1,"utc":true},{"year":2019,"month":4,"date":1,"utc":true},{"year":2022,"month":1,"date":1,"utc":true}], "format": "%Y", "labelFlush": false}},
    "y": {"field": "v", "type": "quantitative", "scale": {"domain": [71.9, 135.3], "nice": false, "zero": false}, "axis": {"values": [80,90,100,110,120,130]}},
    "color": {"field": "k2", "type": "nominal", "scale": {"domain": ["f","g","h","i","j"], "range": ["#1f77b4","#ff7f0e","#2ca02c","#d62728","#9467bd"]}, "legend": {"labelExpr": "datum.label=='f'?'アボカド':datum.label=='g'?'果物加工品':datum.label=='h'?'ナッツ':datum.label=='i'?'油脂・調味料':'油脂'"}}
   }}
 ], "spacing": 7, "resolve": {"scale": {"color": "independent", "y": "independent"}}},
 {"hconcat": [
  {"width": 288, "height": 182,
   "transform": [{"fold": ["k","l","m","n","o"], "as": ["k2","v"]}],
   "mark": {"type": "line", "strokeWidth": 1, "invalid": "break-paths-show-domains"},
   "encoding": {
    "x": {"field": "d", "type": "temporal", "scale": {"type": "utc", "domain": [{"year":2009,"month":6,"date":20,"utc":true},{"year":2022,"month":11,"date":10,"utc":true}]}, "axis": {"values": [{"year":2011,"month":1,"date":1,"utc":true},{"year":2013,"month":10,"date":1,"utc":true},{"year":2016,"month":7,"date":1,"utc":true},{"year":2019,"month":4,"date":1,"utc":true},{"year":2022,"month":1,"date":1,"utc":true}], "format": "%Y", "labelFlush": false}},
    "y": {"field": "v", "type": "quantitative", "scale": {"domain": [89.1, 137.4], "nice": false, "zero": false}, "axis": {"values": [90,100,110,120,130]}},
    "color": {"field": "k2", "type": "nominal", "scale": {"domain": ["k","l","m","n","o"], "range": ["#1f77b4","#ff7f0e","#2ca02c","#d62728","#9467bd"]}, "legend": {"labelExpr": "datum.label=='k'?'食用油':datum.label=='l'?'マーガリン':datum.label=='m'?'調味料':datum.label=='n'?'食塩':'しょう油'"}}
   }},
  {"width": 288, "height": 182,
   "transform": [{"fold": ["p","q","r","s","t"], "as": ["k2","v"]}],
   "mark": {"type": "line", "strokeWidth": 1, "invalid": "break-paths-show-domains"},
   "encoding": {
    "x": {"field": "d", "type": "temporal", "scale": {"type": "utc", "domain": [{"year":2009,"month":6,"date":20,"utc":true},{"year":2022,"month":11,"date":10,"utc":true}]}, "axis": {"values": [{"year":2011,"month":1,"date":1,"utc":true},{"year":2013,"month":10,"date":1,"utc":true},{"year":2016,"month":7,"date":1,"utc":true},{"year":2019,"month":4,"date":1,"utc":true},{"year":2022,"month":1,"date":1,"utc":true}], "format": "%Y", "labelFlush": false}},
    "y": {"field": "v", "type": "quantitative", "scale": {"domain": [92.3, 109.1], "nice": false, "zero": false}, "axis": {"values": [94,96,98,100,102,104,106,108]}},
    "color": {"field": "k2", "type": "nominal", "scale": {"domain": ["p","q","r","s","t"], "range": ["#1f77b4","#ff7f0e","#2ca02c","#d62728","#9467bd"]}, "legend": {"labelExpr": "datum.label=='p'?'みそ':datum.label=='q'?'砂糖':datum.label=='r'?'酢':datum.label=='s'?'ソース':'ケチャップ'"}}
   }}
 ], "spacing": 7, "resolve": {"scale": {"color": "independent", "y": "independent"}}}
]
}
